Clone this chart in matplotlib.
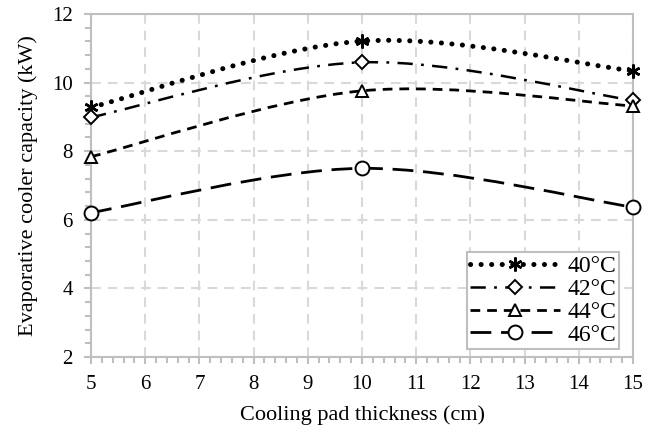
import matplotlib.pyplot as plt
import matplotlib as mpl
import numpy as np
from matplotlib.path import Path
from matplotlib.patches import PathPatch
from matplotlib.lines import Line2D
from matplotlib.ticker import MultipleLocator

mpl.rcParams.update({
    'font.family': 'Liberation Serif',
    'font.size': 15,
    'lines.scale_dashes': False,
})

# data
thickness = [5, 10, 15]
cap_40 = [9.28, 11.21, 10.34]
cap_42 = [8.99, 10.59, 9.48]
cap_44 = [7.84, 9.76, 9.32]
cap_46 = [6.21, 7.50, 6.37]
labels = ['40°C', '42°C', '44°C', '46°C']

GRID = '#d9d9d9'
AXC = '#bfbfbf'


def smooth_path(x, y):
    # Excel-like smoothed line: cubic Bezier through the data points
    p = np.column_stack([x, y]).astype(float)
    n = len(p)
    verts = [p[0]]
    codes = [Path.MOVETO]
    for i in range(n - 1):
        prev = p[i - 1] if i > 0 else p[i]
        nxt = p[i + 2] if i + 2 < n else p[i + 1]
        c1 = p[i] + (p[i + 1] - prev) / 6
        c2 = p[i + 1] - (nxt - p[i]) / 6
        verts += [c1, c2, p[i + 1]]
        codes += [Path.CURVE4] * 3
    return Path(verts, codes)


styles = [
    dict(ls=(0, (0.1, 7.5)), lw=3.6, cap='round', marker=(6, 2, 0), ms=10, mew=1.8),
    dict(ls=(0, (11, 6, 2, 6)), lw=1.8, cap='butt', marker='D', ms=7, mew=1.4),
    dict(ls=(0, (7, 5)), lw=2.0, cap='butt', marker='^', ms=9, mew=1.4),
    dict(ls=(0, (15, 7)), lw=2.0, cap='butt', marker='o', ms=10, mew=1.4),
]

fig = plt.figure(figsize=(6.46, 4.36), dpi=100)
ax = fig.add_axes([0.1409, 0.1812, 0.8390, 0.7867])

handles = []
for ys, st, lab in zip([cap_40, cap_42, cap_44, cap_46], styles, labels):
    patch = PathPatch(smooth_path(thickness, ys), facecolor='none', edgecolor='black',
                      lw=st['lw'], linestyle=st['ls'], capstyle=st['cap'], zorder=3)
    ax.add_patch(patch)
    ax.plot(thickness, ys, linestyle='none', marker=st['marker'], ms=st['ms'],
            mfc='white', mec='black', mew=st['mew'], zorder=4, clip_on=False)
    handles.append(Line2D([], [], color='black', lw=st['lw'], linestyle=st['ls'],
                          dash_capstyle=st['cap'], marker=st['marker'], ms=st['ms'],
                          mfc='white', mec='black', mew=st['mew'], label=lab))

ax.set_xlim(5, 15)
ax.set_ylim(2, 12)
ax.xaxis.set_major_locator(MultipleLocator(1))
ax.xaxis.set_minor_locator(MultipleLocator(0.2))
ax.yaxis.set_major_locator(MultipleLocator(2))
ax.yaxis.set_minor_locator(MultipleLocator(0.4))
ax.tick_params(which='both', direction='out', color=AXC, width=1.5, labelsize=15)
ax.tick_params(which='major', length=5, pad=8)
ax.tick_params(which='minor', length=4)
for sp in ax.spines.values():
    sp.set_color(AXC)
    sp.set_linewidth(1.5)
ax.grid(True, which='major', color=GRID, lw=1.5, linestyle=(0, (7, 5)), zorder=0)
ax.set_axisbelow(True)

ax.set_xlabel('Cooling pad thickness (cm)', fontsize=16, labelpad=8)
ax.set_ylabel('Evaporative cooler capacity (kW)', fontsize=16, labelpad=10)

leg = ax.legend(handles=handles, loc='lower right', bbox_to_anchor=(0.975, 0.023),
                fontsize=17, handlelength=3.8, numpoints=1, labelspacing=0.05,
                handletextpad=0.3, borderpad=0.15, fancybox=False, framealpha=1,
                edgecolor=AXC, borderaxespad=0)
leg.get_frame().set_linewidth(1.5)

fig.savefig('out.png', dpi=100)
